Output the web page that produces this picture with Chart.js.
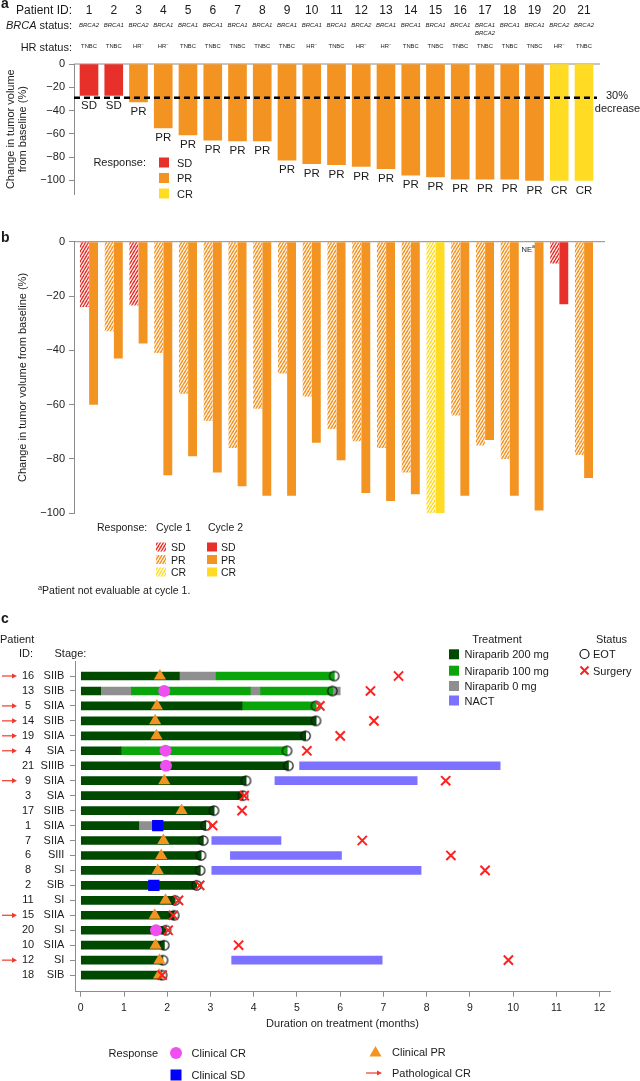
<!DOCTYPE html>
<html>
<head>
<meta charset="utf-8">
<title>Niraparib tumour response</title>
<script src="https://cdn.jsdelivr.net/npm/chart.js@4.4.1/dist/chart.umd.min.js"></script>
<style>
  body { margin: 0; background: #fff; }
  #page { position: relative; width: 640px; height: 1081px; overflow: hidden;
          font-family: 'Liberation Sans', Arial, sans-serif; color: #1a1a1a; }
  #page canvas { position: absolute; left: 0; }
  .t { position: absolute; white-space: nowrap; line-height: 1; }
  .t sup { font-size: 0.7em; vertical-align: 0.5em; line-height: 0; }
</style>
</head>
<body>
<div id="page">
  <canvas id="chartA" width="640" height="205" style="top:0"></canvas>
  <canvas id="chartB" width="640" height="395" style="top:205px"></canvas>
  <canvas id="chartC" width="640" height="481" style="top:600px"></canvas>
</div>
<script>
// panel a - best response
const patientIds = ['1','2','3','4','5','6','7','8','9','10','11','12','13','14','15','16','17','18','19','20','21'];
const brcaStatus = ['BRCA2','BRCA1','BRCA2','BRCA1','BRCA1','BRCA1','BRCA1','BRCA1','BRCA1','BRCA1','BRCA1',
                    'BRCA2','BRCA1','BRCA1','BRCA1','BRCA1','BRCA1/BRCA2','BRCA1','BRCA1','BRCA2','BRCA2'];
const hrStatus = ['TNBC','TNBC','HR-','HR-','TNBC','TNBC','TNBC','TNBC','TNBC','HR-','TNBC',
                  'HR-','HR-','TNBC','TNBC','TNBC','TNBC','TNBC','TNBC','HR-','TNBC'];
const bestChange = [-27, -27, -32.5, -55, -61, -65.5, -66, -66, -82.5, -85.5, -86.5,
                    -88, -90, -95.5, -97, -99, -99, -99, -100, -100, -100];
const bestResponse = ['SD','SD','PR','PR','PR','PR','PR','PR','PR','PR','PR',
                      'PR','PR','PR','PR','PR','PR','PR','PR','CR','CR'];
const thresholdLine = -29;

// panel b - cycle 1 / cycle 2
const cycle1Change = [-24, -33, -23.5, -41, -56, -66, -76, -61.5, -48.5, -57, -69,
                      -73.5, -76, -85, -100, -64, -75, -80, null, -8, -78.5];
const cycle1Response = ['SD','PR','SD','PR','PR','PR','PR','PR','PR','PR','PR',
                        'PR','PR','PR','CR','PR','PR','PR',null,'SD','PR'];
const cycle2Change = [-60, -43, -37.5, -86, -79, -85, -90, -93.5, -93.5, -74, -80.5,
                      -92.5, -95.5, -93, -100, -93.5, -73, -93.5, -99, -23, -87];
const cycle2Response = ['PR','PR','PR','PR','PR','PR','PR','PR','PR','PR','PR',
                        'PR','PR','PR','CR','PR','PR','PR','PR','SD','PR'];
const pctTicks = [0, -20, -40, -60, -80, -100];

// panel c - swimmer plot
const swimPatients = ['16','13','5','14','19','4','21','9','3','17','1','7','6','8','2','11','15','20','10','12','18'];
const swimStages = ['SIIB','SIIB','SIIA','SIIB','SIIA','SIA','SIIIB','SIIA','SIA','SIIB','SIIA',
                    'SIIA','SIII','SI','SIB','SI','SIIA','SI','SIIA','SI','SIB'];
const pathCR = ['16','5','14','19','4','9','15','12'];
const dose200 = [['16',0,2.28],['13',0,0.46],['5',0,3.73],['14',0,5.44],['19',0,5.2],['4',0,0.93],
                 ['21',0,4.8],['9',0,3.82],['3',0,3.75],['17',0,3.08],['1',0,1.34],['1',1.66,2.89],
                 ['7',0,2.83],['6',0,2.78],['8',0,2.76],['2',0,2.68],['11',0,2.18],['15',0,2.16],
                 ['20',0,1.97],['10',0,1.93],['12',0,1.88],['18',0,1.86]];
const dose100 = [['16',3.13,5.86],['13',1.17,3.92],['13',4.16,5.82],['5',3.73,5.44],['4',0.93,4.77]];
const dose0 = [['16',2.28,3.13],['13',0.46,1.17],['13',3.92,4.16],['13',5.82,6.0],['1',1.34,1.66]];
const nact = [['21',5.06,9.7],['9',4.49,7.78],['7',3.03,4.63],['6',3.46,6.03],['8',3.03,7.87],['12',3.49,6.97]];
const eotMonth = [5.86,5.82,5.44,5.44,5.2,4.77,4.8,3.82,3.75,3.08,2.89,2.83,2.78,2.76,2.68,2.18,2.16,1.97,1.93,1.9,1.88];
const surgeryMonth = [7.35,6.7,5.53,6.78,6.0,5.23,null,8.44,3.78,3.73,3.05,6.51,8.56,9.35,2.75,2.26,2.14,2.02,3.65,9.89,1.88];
const clinicalResponse = ['PR','CR','PR','PR','PR','CR','CR','PR',null,'PR','SD','PR','PR','PR','SD','PR','PR','CR','PR','PR','PR'];
const responseMonth = [1.83,1.93,1.76,1.72,1.75,1.96,1.97,1.93,null,2.33,1.78,1.91,1.86,1.78,1.69,1.96,1.71,1.74,1.73,1.82,1.81];
const monthTicks = [0,1,2,3,4,5,6,7,8,9,10,11,12];

const FONT = "'Liberation Sans', Arial, sans-serif";
Chart.defaults.font.family = FONT;
Chart.defaults.color = '#1a1a1a';
Chart.defaults.animation = false;

const RED = '#E8302A', ORANGE = '#F39322', YELLOW = '#FFDC23';
const DARK_GREEN = '#004A00', GREEN = '#0AA50A', GREY = '#8F8F8F', NACT_BLUE = '#7D72FF';
const MAGENTA = '#EE4FEE', BLUE = '#0000FF', CROSS_RED = '#FF2020', ARROW_RED = '#F03A2A', AXIS = '#8c8c8c';
const respColor = { SD: RED, PR: ORANGE, CR: YELLOW };
const X_MIN = 0.394, X_MAX = 21.647;

const page = document.getElementById('page');
function txt(html, x, y, size, align, style) {
  const el = document.createElement('div');
  el.className = 't';
  el.innerHTML = html;
  el.style.fontSize = size + 'px';
  el.style.left = x + 'px';
  el.style.top = y + 'px';
  const tx = align === 'center' ? '-50%' : align === 'right' ? '-100%' : '0';
  el.style.transform = 'translate(' + tx + ', -50%)';
  if (style) Object.assign(el.style, style);
  page.appendChild(el);
}

const fmtPct = v => v === 0 ? '0' : '\u2212' + Math.abs(v);
function pctAxis(min, title) {
  return {
    min: min, max: 0,
    afterFit: s => { s.width = 74; },
    afterBuildTicks: s => { s.ticks = pctTicks.map(v => ({ value: v })); },
    grid: { drawOnChartArea: false, tickLength: 5, color: AXIS },
    border: { color: AXIS },
    ticks: { padding: 4, font: { size: 11 }, color: '#222', callback: fmtPct },
    title: title
  };
}

// diagonal "/" stripes for the cycle 1 bars
function hatch(ctx, color) {
  const c = document.createElement('canvas');
  c.width = 3; c.height = 5;
  const g = c.getContext('2d');
  g.strokeStyle = color; g.lineWidth = 1.45;
  for (const k of [-3, 0, 3]) {
    g.beginPath(); g.moveTo(k, 5); g.lineTo(k + 3, 0); g.stroke();
  }
  return ctx.createPattern(c, 'repeat');
}

function arrow(ctx, x0, x1, y) {
  ctx.strokeStyle = ARROW_RED; ctx.fillStyle = ARROW_RED; ctx.lineWidth = 1.2;
  ctx.beginPath(); ctx.moveTo(x0, y); ctx.lineTo(x1 - 3, y); ctx.stroke();
  ctx.beginPath(); ctx.moveTo(x1, y); ctx.lineTo(x1 - 5, y - 2.6); ctx.lineTo(x1 - 5, y + 2.6); ctx.closePath(); ctx.fill();
}

// ---------- panel a ----------
const panelAPlugin = {
  id: 'panelA',
  beforeDatasetsDraw(chart) {
    const { ctx, chartArea: ca, scales: { y } } = chart;
    ctx.save();
    ctx.strokeStyle = AXIS; ctx.lineWidth = 1;
    ctx.beginPath(); ctx.moveTo(ca.left, y.getPixelForValue(0)); ctx.lineTo(ca.right, y.getPixelForValue(0)); ctx.stroke();
    ctx.restore();
  },
  afterDatasetsDraw(chart) {
    const { ctx, chartArea: ca, scales: { x, y } } = chart;
    ctx.save();
    const ty = y.getPixelForValue(thresholdLine);
    ctx.strokeStyle = '#000'; ctx.lineWidth = 2.5; ctx.setLineDash([6, 4]);
    ctx.beginPath(); ctx.moveTo(ca.left, ty); ctx.lineTo(ca.right - 3, ty); ctx.stroke();
    ctx.setLineDash([]);
    ctx.fillStyle = '#1a1a1a'; ctx.font = '11.5px ' + FONT;
    ctx.textAlign = 'center'; ctx.textBaseline = 'middle';
    bestChange.forEach((v, i) => ctx.fillText(bestResponse[i], x.getPixelForValue(i + 1), y.getPixelForValue(v) + 10));
    [['SD', 162.5], ['PR', 178], ['CR', 193.5]].forEach(([r, yy]) => {
      ctx.fillStyle = respColor[r]; ctx.fillRect(159, yy - 5, 10, 10);
    });
    ctx.restore();
  }
};

const chartA = new Chart(document.getElementById('chartA'), {
  type: 'bar',
  data: {
    datasets: [{
      label: 'Best response',
      data: bestChange.map((v, i) => ({ x: i + 1, y: v })),
      backgroundColor: bestResponse.map(r => respColor[r]),
      barThickness: 18
    }]
  },
  options: {
    responsive: false, animation: false, events: [],
    layout: { padding: { top: 64, right: 40, bottom: 3, left: 0 }, autoPadding: false },
    plugins: { legend: { display: false }, tooltip: { enabled: false } },
    scales: {
      x: { type: 'linear', min: X_MIN, max: X_MAX, offset: false, display: false },
      y: pctAxis(-112, { display: true, text: ['Change in tumor volume', 'from baseline (%)'],
                         font: { size: 11, lineHeight: 1.1 }, color: '#222', padding: { top: 4.5, bottom: 0 } })
    }
  },
  plugins: [panelAPlugin]
});

// ---------- panel b ----------
const ctxB = document.getElementById('chartB').getContext('2d');
const hatchFill = { SD: hatch(ctxB, RED), PR: hatch(ctxB, ORANGE), CR: hatch(ctxB, YELLOW) };

const panelBPlugin = {
  id: 'panelB',
  beforeDatasetsDraw(chart) {
    const { ctx, chartArea: ca, scales: { y } } = chart;
    ctx.save();
    ctx.strokeStyle = AXIS; ctx.lineWidth = 1;
    ctx.beginPath(); ctx.moveTo(ca.left, y.getPixelForValue(0)); ctx.lineTo(ca.right + 5, y.getPixelForValue(0)); ctx.stroke();
    ctx.restore();
  },
  afterDatasetsDraw(chart) {
    const { ctx, scales: { x } } = chart;
    ctx.save();
    const ne = cycle1Change.indexOf(null);
    const nx = x.getPixelForValue(ne + 1) - 13;
    ctx.fillStyle = '#1a1a1a'; ctx.textBaseline = 'middle'; ctx.textAlign = 'left';
    ctx.font = '7.5px ' + FONT; ctx.fillText('NE', nx, 45);
    ctx.font = '5px ' + FONT; ctx.fillText('a', nx + 10.5, 42);
    [['SD', 547], ['PR', 559.5], ['CR', 572]].forEach(([r, yy]) => {
      ctx.fillStyle = hatchFill[r]; ctx.fillRect(156, yy - 205 - 4.5, 10, 9);
      ctx.fillStyle = respColor[r]; ctx.fillRect(207, yy - 205 - 4.5, 10, 9);
    });
    ctx.restore();
  }
};

const chartB = new Chart(ctxB, {
  type: 'bar',
  data: {
    datasets: [{
      label: 'Cycle 1',
      data: cycle1Change.map((v, i) => ({ x: i + 1, y: v })),
      backgroundColor: cycle1Response.map(r => r ? hatchFill[r] : 'rgba(0,0,0,0)'),
      categoryPercentage: 0.74, barPercentage: 0.97
    }, {
      label: 'Cycle 2',
      data: cycle2Change.map((v, i) => ({ x: i + 1, y: v })),
      backgroundColor: cycle2Response.map(r => respColor[r]),
      categoryPercentage: 0.74, barPercentage: 0.97
    }]
  },
  options: {
    responsive: false, animation: false, events: [],
    layout: { padding: { top: 36.7, right: 40, bottom: 86.7, left: 0 }, autoPadding: false },
    plugins: { legend: { display: false }, tooltip: { enabled: false } },
    scales: {
      x: { type: 'linear', min: X_MIN, max: X_MAX, offset: false, display: false },
      y: pctAxis(-100, { display: true, text: 'Change in tumor volume from baseline (%)',
                         font: { size: 11 }, color: '#222', padding: { top: 16, bottom: 0 } })
    }
  },
  plugins: [panelBPlugin]
});

// ---------- panel c ----------
const rowOf = id => swimPatients.indexOf(id);
const segSets = [[dose200, DARK_GREEN], [dose100, GREEN], [dose0, GREY]];
function colorAtEnd(id, m) {
  for (const [segs, col] of segSets) {
    for (const [p, s, e] of segs) if (p === id && m > s && m <= e + 0.05) return col;
  }
  return DARK_GREEN;
}
function eotMarker(fill) {
  const c = document.createElement('canvas');
  c.width = 13; c.height = 13;
  const g = c.getContext('2d');
  g.fillStyle = fill;
  g.beginPath(); g.arc(6.5, 6.5, 4.7, Math.PI / 2, Math.PI * 1.5); g.closePath(); g.fill();
  g.strokeStyle = '#111'; g.lineWidth = 1.2;
  g.beginPath(); g.arc(6.5, 6.5, 4.7, 0, Math.PI * 2); g.stroke();
  return c;
}
function segDataset(label, segs, color) {
  return {
    type: 'bar', label: label, indexAxis: 'y', grouped: false, barThickness: 8, order: 10,
    data: segs.map(([id, s, e]) => ({ x: [s, e], y: rowOf(id) })),
    backgroundColor: color
  };
}
function respDataset(type, style, radius, color) {
  return {
    type: 'scatter', label: 'Clinical ' + type, order: 3,
    data: clinicalResponse.map((r, i) => r === type ? { x: responseMonth[i], y: i } : null).filter(Boolean),
    pointStyle: style, pointRadius: radius, pointBackgroundColor: color, pointBorderWidth: 0
  };
}

function drawTriangle(ctx, x, y, r) {
  ctx.beginPath();
  for (let k = 0; k < 3; k++) {
    const a = -Math.PI / 2 + k * 2 * Math.PI / 3;
    const px = x + Math.cos(a) * r, py = y + Math.sin(a) * r;
    k ? ctx.lineTo(px, py) : ctx.moveTo(px, py);
  }
  ctx.closePath(); ctx.fill();
}

const panelCPlugin = {
  id: 'panelC',
  afterDraw(chart) {
    const { ctx, scales: { y } } = chart;
    ctx.save();
    ctx.font = '11px ' + FONT;
    ctx.textAlign = 'center'; ctx.textBaseline = 'middle';
    swimPatients.forEach((id, i) => {
      const py = y.getPixelForValue(i);
      ctx.fillStyle = '#1a1a1a';
      ctx.fillText(id, 28, py);
      if (pathCR.includes(id)) arrow(ctx, 2, 17, py);
    });
    // treatment legend
    [[DARK_GREEN, 54.3], [GREEN, 70.7], [GREY, 86], [NACT_BLUE, 100.5]].forEach(([c, yy]) => {
      ctx.fillStyle = c; ctx.fillRect(449, yy - 5, 10, 10);
    });
    // status legend
    ctx.strokeStyle = '#111'; ctx.lineWidth = 1.2;
    ctx.beginPath(); ctx.arc(584.5, 54, 4.5, 0, Math.PI * 2); ctx.stroke();
    ctx.strokeStyle = CROSS_RED; ctx.lineWidth = 2;
    ctx.beginPath();
    ctx.moveTo(580.5, 66.5); ctx.lineTo(588.5, 74.5); ctx.moveTo(588.5, 66.5); ctx.lineTo(580.5, 74.5);
    ctx.stroke();
    // response legend
    ctx.fillStyle = MAGENTA; ctx.beginPath(); ctx.arc(176, 453, 6, 0, Math.PI * 2); ctx.fill();
    ctx.fillStyle = BLUE; ctx.fillRect(170.5, 469.5, 11, 11);
    ctx.fillStyle = ORANGE; drawTriangle(ctx, 375.5, 453, 7);
    arrow(ctx, 366, 382, 473);
    ctx.restore();
  }
};

const chartC = new Chart(document.getElementById('chartC'), {
  type: 'bar',
  data: {
    datasets: [
      segDataset('Niraparib 200 mg', dose200, DARK_GREEN),
      segDataset('Niraparib 100 mg', dose100, GREEN),
      segDataset('Niraparib 0 mg', dose0, GREY),
      segDataset('NACT', nact, NACT_BLUE),
      {
        type: 'scatter', label: 'EOT', order: 4,
        data: eotMonth.map((m, i) => ({ x: m, y: i })),
        pointStyle: eotMonth.map((m, i) => eotMarker(colorAtEnd(swimPatients[i], m))),
        pointRadius: 6
      },
      respDataset('PR', 'triangle', 7, ORANGE),
      respDataset('CR', 'circle', 6, MAGENTA),
      respDataset('SD', 'rect', 8, BLUE),
      {
        type: 'scatter', label: 'Surgery', order: 1,
        data: surgeryMonth.map((m, i) => m == null ? null : { x: m, y: i }).filter(Boolean),
        pointStyle: 'crossRot', pointRadius: 6.5, pointBorderColor: CROSS_RED, pointBorderWidth: 2
      }
    ]
  },
  options: {
    responsive: false, animation: false, events: [],
    layout: { padding: { top: 61.7, right: 30, bottom: 50, left: 0 }, autoPadding: false },
    plugins: { legend: { display: false }, tooltip: { enabled: false } },
    scales: {
      x: {
        type: 'linear', min: -0.134, max: 12.24, offset: false,
        afterFit: s => { s.height = 39.3; },
        afterBuildTicks: s => { s.ticks = monthTicks.map(v => ({ value: v })); },
        grid: { drawOnChartArea: false, tickLength: 5, color: AXIS, offset: false },
        border: { color: AXIS },
        ticks: { padding: 5, font: { size: 10.5 }, color: '#222', autoSkip: false, maxRotation: 0 },
        title: { display: true, text: 'Duration on treatment (months)', font: { size: 11 }, color: '#222', padding: 0 }
      },
      y: {
        type: 'linear', reverse: true, min: -0.957, max: 21.11, offset: false,
        afterFit: s => { s.width = 75; },
        afterBuildTicks: s => { s.ticks = swimPatients.map((_, i) => ({ value: i })); },
        grid: { drawOnChartArea: false, tickLength: 5, color: AXIS, offset: false },
        border: { color: AXIS },
        ticks: { padding: 5.6, font: { size: 11 }, color: '#222', autoSkip: false, callback: v => swimStages[v] }
      }
    }
  },
  plugins: [panelCPlugin]
});

// ---------- text ----------
const bold = { fontWeight: 'bold' };
txt('a', 1, 3, 14, 'left', bold);
txt('b', 1, 237, 14, 'left', bold);
txt('c', 1, 618, 14, 'left', bold);

txt('Patient ID:', 72, 10, 12, 'right');
txt('<i>BRCA</i> status:', 72, 25, 11, 'right');
txt('HR status:', 72, 47, 11, 'right');
patientIds.forEach((id, i) => {
  const px = chartA.scales.x.getPixelForValue(i + 1);
  txt(id, px, 10, 12, 'center');
  const brca = brcaStatus[i].split('/');
  brca.forEach((b, k) => txt(b, px, 25 + k * 8, 6, 'center', { fontStyle: 'italic' }));
  const hr = hrStatus[i] === 'HR-' ? 'HR<sup>\u2212</sup>' : hrStatus[i];
  txt(hr, px, 47, 5.8, 'center');
});
txt('30%', 617, 95, 11, 'center');
txt('decrease', 617.5, 108, 11, 'center');
txt('Response:', 146, 162, 11, 'right');
txt('SD', 177, 162.5, 11, 'left');
txt('PR', 177, 178, 11, 'left');
txt('CR', 177, 193.5, 11, 'left');

txt('Response:', 97, 527, 10.5, 'left');
txt('Cycle 1', 156, 527, 10.5, 'left');
txt('Cycle 2', 208, 527, 10.5, 'left');
[['SD', 547], ['PR', 559.5], ['CR', 572]].forEach(([r, yy]) => {
  txt(r, 171, yy, 10.5, 'left');
  txt(r, 221, yy, 10.5, 'left');
});
txt('<sup>a</sup>Patient not evaluable at cycle 1.', 38, 590, 10.5, 'left');

txt('Patient', 0, 639, 11, 'left');
txt('ID:', 33, 653, 11, 'right');
txt('Stage:', 54.5, 653, 11, 'left');
txt('Treatment', 497, 639, 11, 'center');
txt('Status', 611.5, 639, 11, 'center');
[['Niraparib 200 mg', 654.3], ['Niraparib 100 mg', 670.7], ['Niraparib 0 mg', 686], ['NACT', 700.5]]
  .forEach(([l, yy]) => txt(l, 464.5, yy, 11, 'left'));
txt('EOT', 593, 654, 11, 'left');
txt('Surgery', 593, 670.5, 11, 'left');
txt('Response', 108.6, 1053, 11, 'left');
txt('Clinical CR', 191.5, 1053, 11, 'left');
txt('Clinical SD', 191.5, 1075, 11, 'left');
txt('Clinical PR', 392, 1051.5, 11, 'left');
txt('Pathological CR', 392, 1073, 11, 'left');
</script>
</body>
</html>
